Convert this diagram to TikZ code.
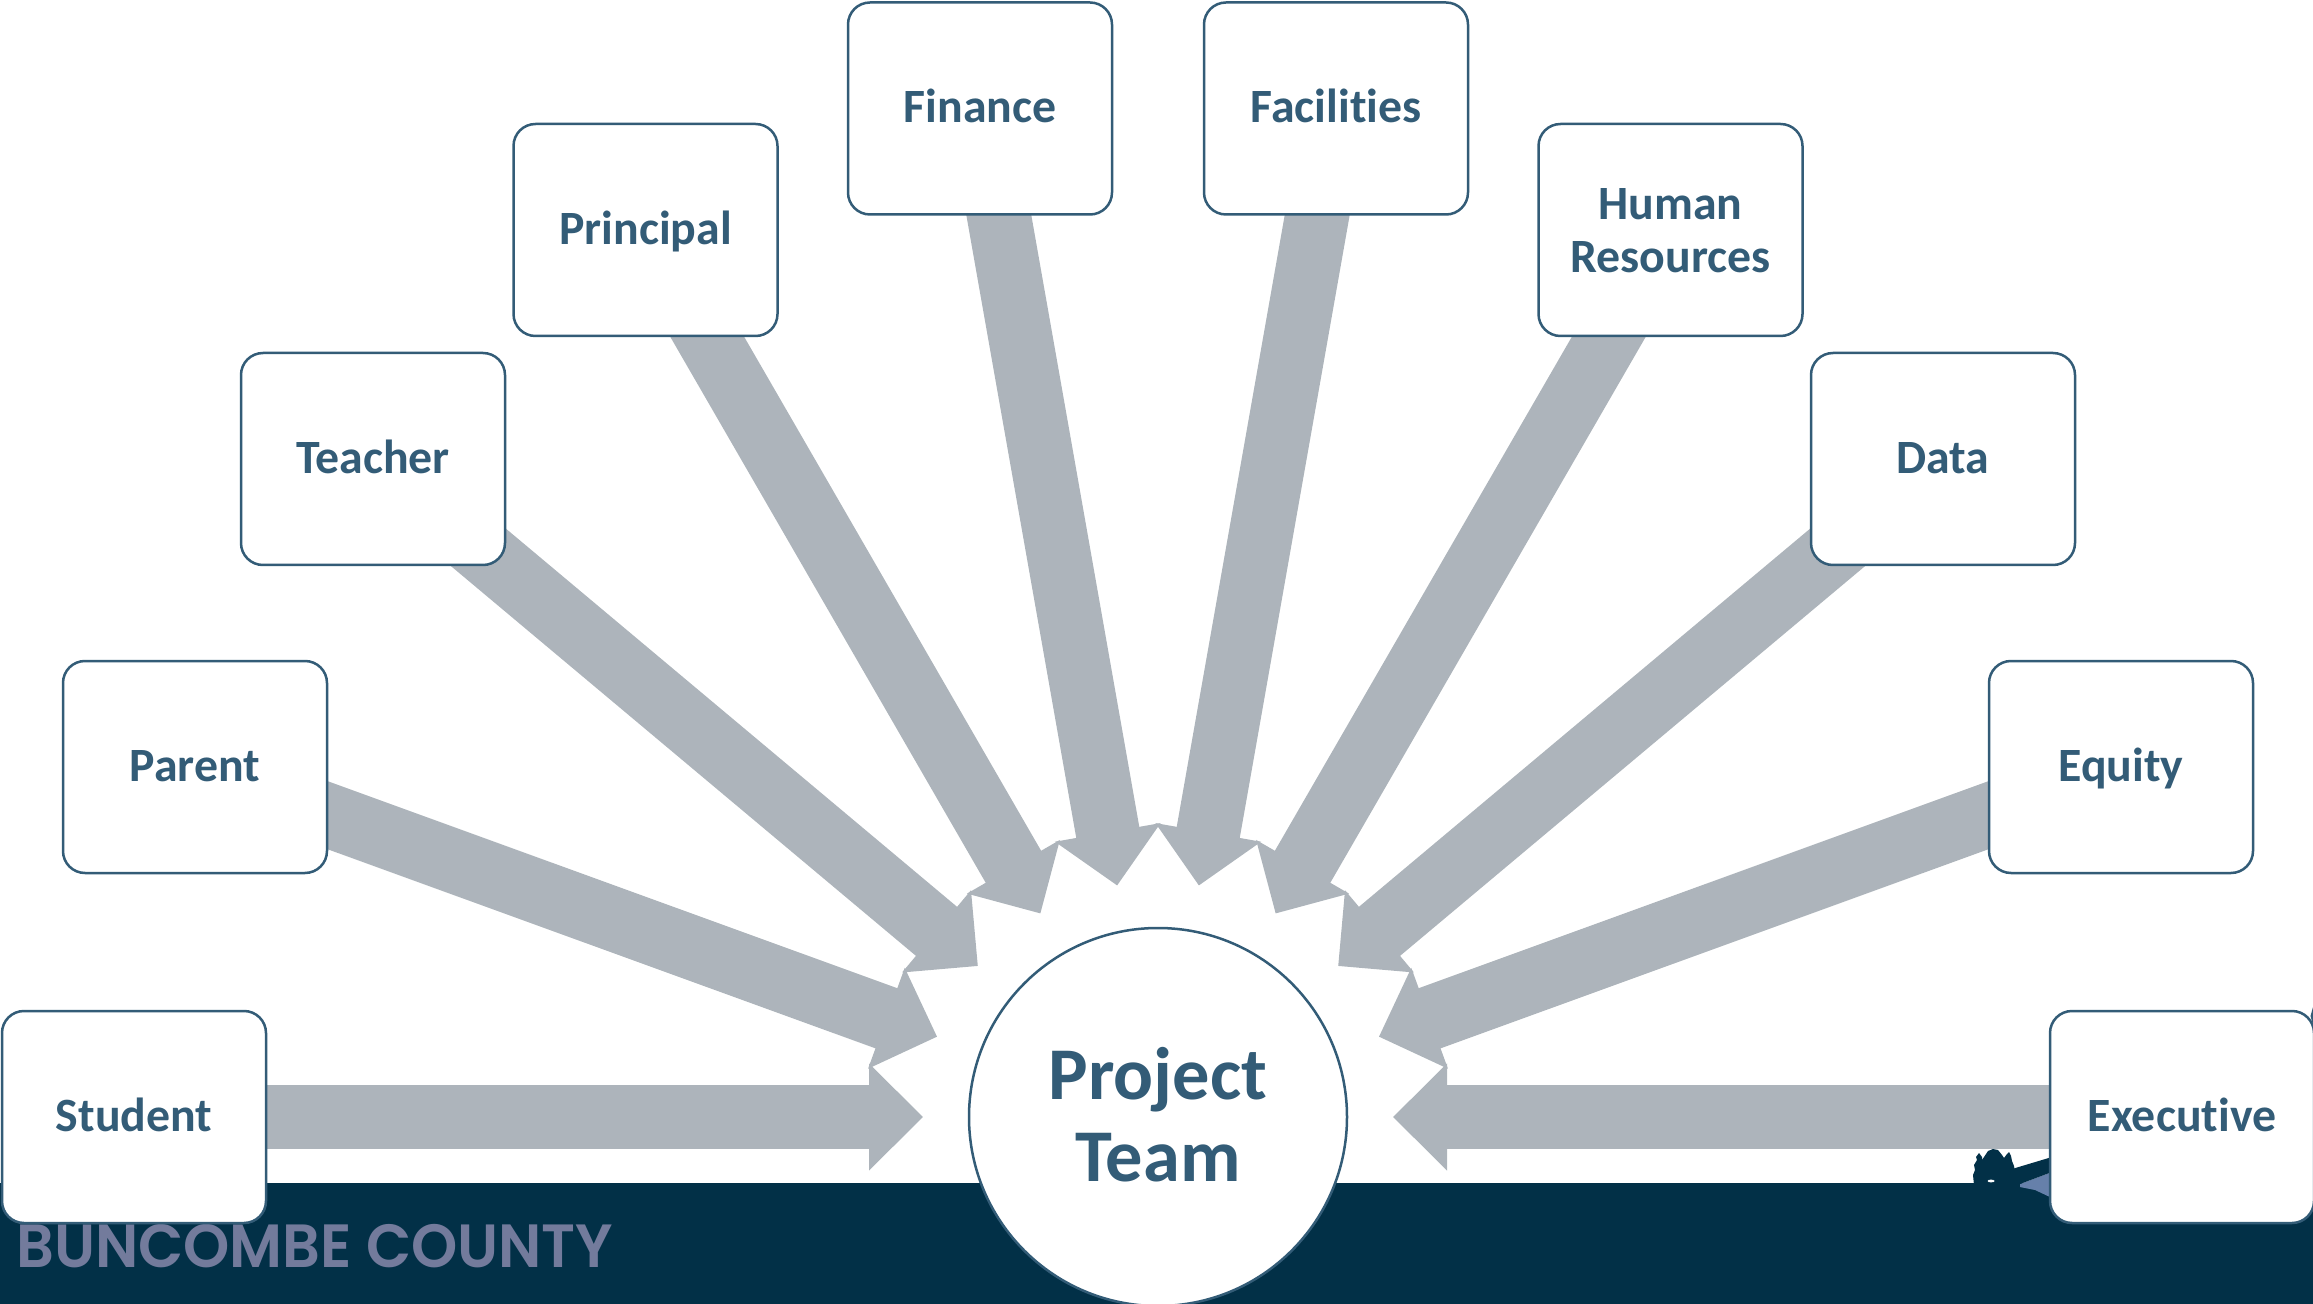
\documentclass[tikz,border=0pt]{standalone}
\usepackage{fontspec}
\setmainfont{Carlito}[Ligatures=NoCommon]
\newfontfamily\logofont{Poppins SemiBold}
\usetikzlibrary{arrows.meta,backgrounds}
\definecolor{bandcol}{HTML}{023047}
\definecolor{inkcol}{HTML}{335C77}
\definecolor{arrowcol}{HTML}{ADB4BB}
\definecolor{logocol}{HTML}{737B9C}
\definecolor{lakecol}{HTML}{6680AA}
\newcommand\boxstrut{\rule[-5.8pt]{0pt}{26pt}}
\newcommand\hubstrut{\rule[-2.5pt]{0pt}{38.5pt}}
\tikzset{
  teambox/.style={draw=inkcol,line width=1.25pt,fill=white,rounded corners=11pt,minimum width=132pt,minimum height=106pt,
    inner sep=0pt,align=center,text=inkcol,font=\fontsize{23.9}{26.5}\selectfont\bfseries,
    execute at begin node=\boxstrut,execute at end node=\boxstrut},
  hubnode/.style={draw=inkcol,line width=1.25pt,fill=white,circle,minimum size=189pt,inner sep=0pt,align=center,text=inkcol,
    font=\fontsize{37.2}{41.3}\selectfont\bfseries,
    execute at begin node=\hubstrut,execute at end node=\hubstrut},
  blockarrow/.style={draw=arrowcol,line width=32pt,shorten >=117.5pt,-{Triangle[length=27pt,width=52pt,fill=arrowcol]}},
}
\begin{document}
\begin{tikzpicture}[x=0.5pt,y=-0.5pt]
\useasboundingbox (0,0) rectangle (2313,1304);
\clip (0,0) rectangle (2313,1304);
\node[hubnode] (hub) at (1158,1117) {Project\\Team};
\node[teambox] (student) at (134,1117) {Student};
\node[teambox] (parent) at (195,767) {Parent};
\node[teambox] (teacher) at (373,459) {Teacher};
\node[teambox] (principal) at (645.5,230) {Principal};
\node[teambox] (finance) at (980,108.5) {Finance};
\node[teambox] (facilities) at (1336,108.5) {Facilities};
\node[teambox] (hr) at (1670.5,230) {\rule{0pt}{21.5pt}Human\\Resources};
\node[teambox] (data) at (1943,459) {Data};
\node[teambox] (equity) at (2121,767) {Equity};
\node[teambox] (executive) at (2182,1117) {Executive};
\fill[inkcol] (2313,1007) -- (2310.5,1016) -- (2313,1025) -- cycle;
\begin{pgfonlayer}{background}
\fill[bandcol] (0,1183) rectangle (2313,1304);
\node[text=logocol,inner sep=0pt,anchor=base west,font=\logofont\fontsize{30.5}{36}\selectfont] (logotext) at (16,1267) {\scalebox{0.965}[1]{BUNCOMBE COUNTY}};
\fill[lakecol] (2020,1184) -- (2052,1172) -- (2052,1198) -- (2035,1190) -- (2020,1187) -- cycle;
\fill[bandcol] (2012,1169) -- (2052,1157) -- (2052,1172) -- (2020,1184) -- (2012,1185) -- cycle;
\fill[bandcol] (1974,1185) -- (1973,1175) -- (1975,1170) -- (1974,1165) -- (1977,1160) -- (1976,1157) -- (1979,1153) -- (1982,1157) -- (1982,1160) -- (1986,1154) -- (1988,1151) -- (1993,1149) -- (1998,1150) -- (2002,1155) -- (2004,1158) -- (2007,1154) -- (2009,1152) -- (2011,1156) -- (2012,1161) -- (2014,1166) -- (2015,1172) -- (2014,1178) -- (2015,1185) -- cycle;
\fill[white] (1991,1181) ellipse[x radius=3.5,y radius=1.4];
\foreach \n in {student,parent,teacher,principal,finance,facilities,hr,data,equity,executive}
  \draw[blockarrow] (\n.center) -- (hub.center);
\end{pgfonlayer}
\end{tikzpicture}
\end{document}
